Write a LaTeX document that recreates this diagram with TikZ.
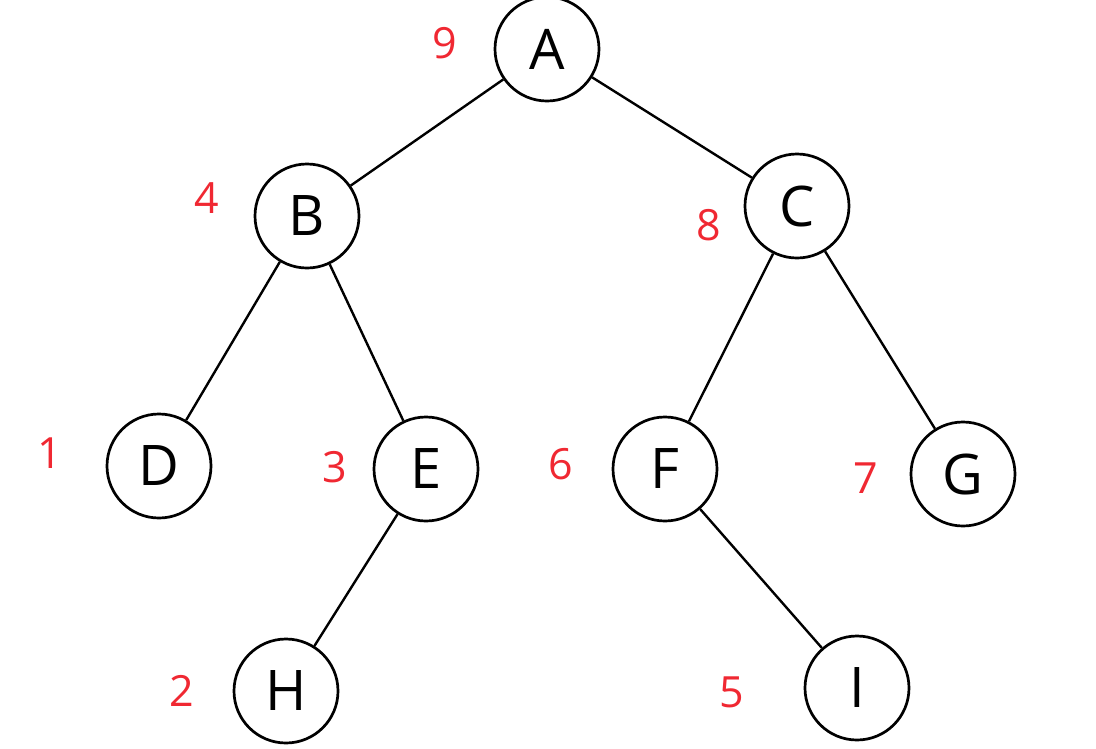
\documentclass[tikz,border=0pt]{standalone}
\usepackage{fontspec}
\setmainfont{Open Sans}
\definecolor{numred}{RGB}{240,40,50}
\begin{document}
\begin{tikzpicture}[x=1pt,y=-1pt,
  treenode/.style={circle,draw=black,line width=2.7pt,minimum size=104pt,inner sep=0pt,font=\fontsize{56}{56}\selectfont},
  order/.style={text=numred,inner sep=0pt,font=\fontsize{43}{43}\selectfont},
  edge/.style={line width=2.4pt}]
\useasboundingbox (0,0) rectangle (1096,748);
\node[treenode] (A) at (547,49) {A};
\node[treenode] (B) at (307,216) {B};
\node[treenode] (C) at (797,206) {C};
\node[treenode] (D) at (159,466) {D};
\node[treenode] (E) at (426,469) {E};
\node[treenode] (F) at (665,469) {F};
\node[treenode] (G) at (963,474) {G};
\node[treenode] (H) at (286,691) {H};
\node[treenode] (I) at (857,688) {I};
\node[order] (nA) at (445,43) {9};
\node[order] (nB) at (207,198) {4};
\node[order] (nC) at (709,225) {8};
\node[order] (nD) at (50,453) {1};
\node[order] (nE) at (335,467) {3};
\node[order] (nF) at (561,464) {6};
\node[order] (nG) at (866,478) {7};
\node[order] (nH) at (182,691) {2};
\node[order] (nI) at (732,692) {5};
\draw[edge] (A) -- (B);
\draw[edge] (A) -- (C);
\draw[edge] (B) -- (D);
\draw[edge] (B) -- (E);
\draw[edge] (C) -- (F);
\draw[edge] (C) -- (G);
\draw[edge] (E) -- (H);
\draw[edge] (F) -- (I);
\end{tikzpicture}
\end{document}
